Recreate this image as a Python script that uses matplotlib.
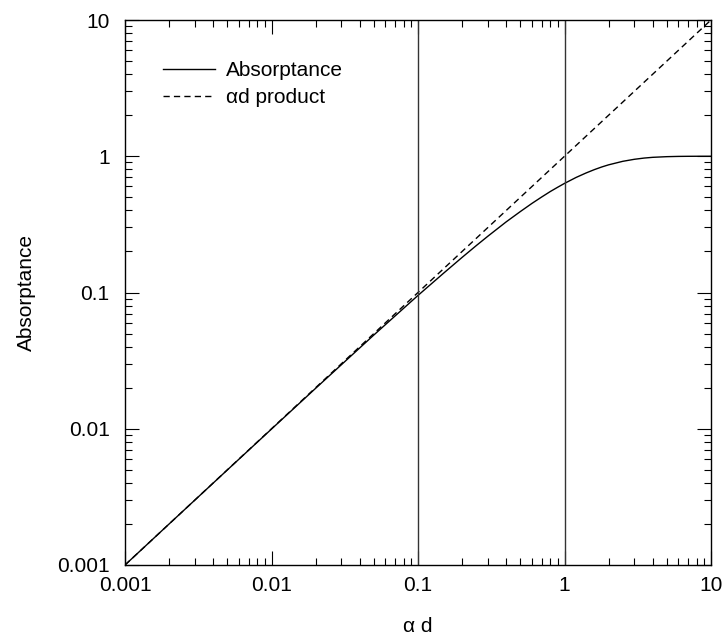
import numpy as np
import matplotlib.pyplot as plt
from matplotlib.ticker import FixedLocator, LogLocator, NullFormatter

plt.rcParams['font.family'] = ['Liberation Sans', 'DejaVu Sans']

# values
ad = [0.001, 0.002, 0.005, 0.01, 0.02, 0.05, 0.1, 0.15, 0.2, 0.25, 0.3, 0.4, 0.5, 0.6, 0.7, 0.8, 0.9,
      1.0, 1.2, 1.4, 1.6, 1.8, 2.0, 2.5, 3.0, 3.5, 4.0, 5.0, 6.0, 7.0, 8.0, 10.0]
absorptance = [0.001, 0.002, 0.00499, 0.00995, 0.0198, 0.0488, 0.0952, 0.139, 0.181, 0.221, 0.259,
               0.330, 0.393, 0.451, 0.503, 0.551, 0.593, 0.632, 0.699, 0.753, 0.798, 0.835, 0.865,
               0.918, 0.950, 0.970, 0.982, 0.993, 0.9975, 0.9991, 0.9997, 1.0]
product = [0.001, 10.0]
vlines = [0.1, 1.0]
ticks = [0.001, 0.01, 0.1, 1, 10]
tick_labels = ['0.001', '0.01', '0.1', '1', '10']

fig = plt.figure(figsize=(7.25, 6.4), dpi=100)
ax = fig.add_axes([125 / 725, 1 - 565 / 640, 586 / 725, 545 / 640])

ax.plot(ad, absorptance, color='black', linewidth=1.0, label='Absorptance')
ax.plot(product, product, color='black', linewidth=1.0, dashes=(4.5, 3), label='\u03b1d product')
for v in vlines:
    ax.axvline(v, color='#333333', linewidth=1.0)

ax.set_xscale('log')
ax.set_yscale('log')
ax.set_xlim(0.001, 10)
ax.set_ylim(0.001, 10)

for axis in (ax.xaxis, ax.yaxis):
    axis.set_major_locator(FixedLocator(ticks))
    axis.set_minor_locator(LogLocator(base=10, subs=np.arange(2, 10)))
    axis.set_minor_formatter(NullFormatter())
ax.set_xticklabels(tick_labels)
ax.set_yticklabels(tick_labels)

ax.tick_params(which='both', direction='in', top=True, right=True, labelsize=15, width=0.8)
ax.tick_params(which='major', length=10)
ax.tick_params(axis='x', which='major', pad=8)
ax.tick_params(axis='y', which='major', pad=11)
ax.tick_params(which='minor', length=5)
for s in ax.spines.values():
    s.set_linewidth(1.0)

ax.set_xlabel('\u03b1 d', fontsize=15, labelpad=16)
ax.set_ylabel('Absorptance', fontsize=15, labelpad=15)

ax.legend(loc='upper left', bbox_to_anchor=(0.05, 0.94), frameon=False, fontsize=15,
          handlelength=2.5, handletextpad=0.55, labelspacing=0.4, borderaxespad=0)

fig.savefig('out.png', dpi=100)
